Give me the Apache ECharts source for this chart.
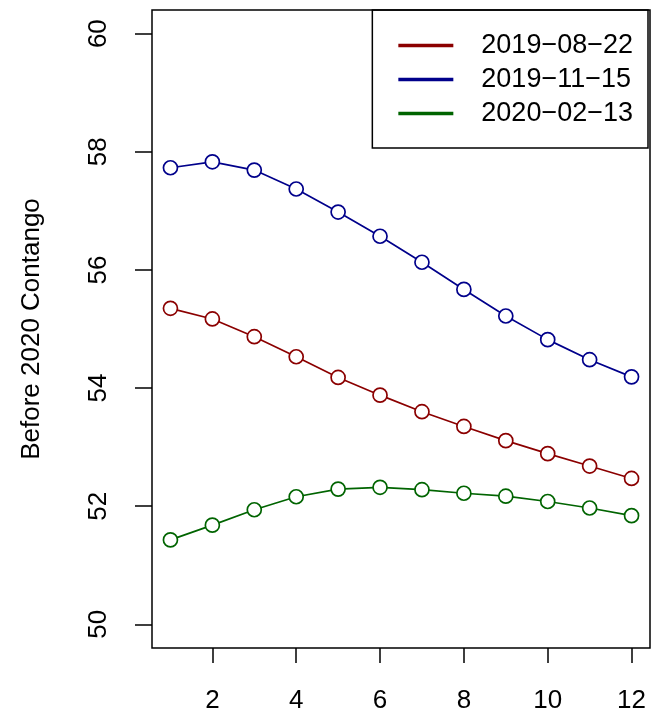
<!DOCTYPE html>
<html>
<head>
<meta charset="utf-8">
<script src="https://cdn.jsdelivr.net/npm/echarts@6/dist/echarts.min.js"></script>
<style>
  html, body { margin: 0; padding: 0; background: #fff; }
  #chart { width: 653px; height: 716px; }
</style>
</head>
<body>
<div id="chart"></div>
<script>
  // months ahead
  var months = [1, 2, 3, 4, 5, 6, 7, 8, 9, 10, 11, 12];
  var aug2019 = [55.35, 55.17, 54.87, 54.53, 54.18, 53.88, 53.60, 53.35, 53.11, 52.89, 52.68, 52.47];
  var nov2019 = [57.73, 57.83, 57.69, 57.37, 56.98, 56.57, 56.13, 55.67, 55.22, 54.82, 54.48, 54.19];
  var feb2020 = [51.43, 51.68, 51.94, 52.16, 52.29, 52.32, 52.28, 52.22, 52.17, 52.08, 51.97, 51.84];
  var seriesNames = ['2019−08−22', '2019−11−15', '2020−02−13'];
  var xTicks = [2, 4, 6, 8, 10, 12];
  var yTicks = [50, 52, 54, 56, 58, 60];

  var colors = ['#8b0000', '#00008b', '#006400'];
  var font = 'Liberation Sans, Arial, Helvetica, sans-serif';

  function pairs(vals) {
    return months.map(function (m, i) { return [m, vals[i]]; });
  }

  function mkSeries(name, vals, col) {
    return {
      name: name,
      type: 'line',
      data: pairs(vals),
      symbol: 'circle',
      symbolSize: 14,
      showSymbol: true,
      lineStyle: { color: col, width: 1.7 },
      itemStyle: { color: '#fff', borderColor: col, borderWidth: 1.7 },
      emphasis: { disabled: true },
      animation: false
    };
  }

  var chart = echarts.init(document.getElementById('chart'));
  chart.setOption({
    animation: false,
    grid: {
      left: 152, right: 3, top: 10, bottom: 68,
      show: true, borderColor: '#000', borderWidth: 1.5, backgroundColor: 'transparent'
    },
    legend: {
      right: 5,
      top: 10,
      orient: 'vertical',
      borderColor: '#000',
      borderWidth: 1.5,
      padding: [22, 15, 21, 26],
      itemWidth: 53,
      itemHeight: 1.5,
      itemGap: 7,
      icon: 'rect',
      textStyle: { fontFamily: font, fontSize: 27, color: '#000', lineHeight: 27, padding: [0, 0, 0, 24] },
      data: seriesNames.map(function (n, i) { return { name: n, itemStyle: { color: colors[i] } }; })
    },
    xAxis: {
      type: 'value',
      min: 0.56,
      max: 12.44,
      splitLine: { show: false },
      axisLine: { show: false },
      axisTick: { show: true, inside: false, length: 15, customValues: xTicks, lineStyle: { color: '#000', width: 1.5 } },
      axisLabel: { customValues: xTicks, margin: 40, fontFamily: font, fontSize: 26, color: '#000' }
    },
    yAxis: {
      type: 'value',
      min: 49.6,
      max: 60.4,
      name: 'Before 2020 Contango',
      nameLocation: 'middle',
      nameRotate: 90,
      nameGap: 107,
      nameTextStyle: { fontFamily: font, fontSize: 26, color: '#000' },
      splitLine: { show: false },
      axisLine: { show: false },
      axisTick: { show: true, inside: false, length: 17, customValues: yTicks, lineStyle: { color: '#000', width: 1.5 } },
      axisLabel: { customValues: yTicks, rotate: 90, margin: 40, fontFamily: font, fontSize: 26, color: '#000' }
    },
    series: [
      mkSeries(seriesNames[0], aug2019, colors[0]),
      mkSeries(seriesNames[1], nov2019, colors[1]),
      mkSeries(seriesNames[2], feb2020, colors[2])
    ]
  });
</script>
</body>
</html>
